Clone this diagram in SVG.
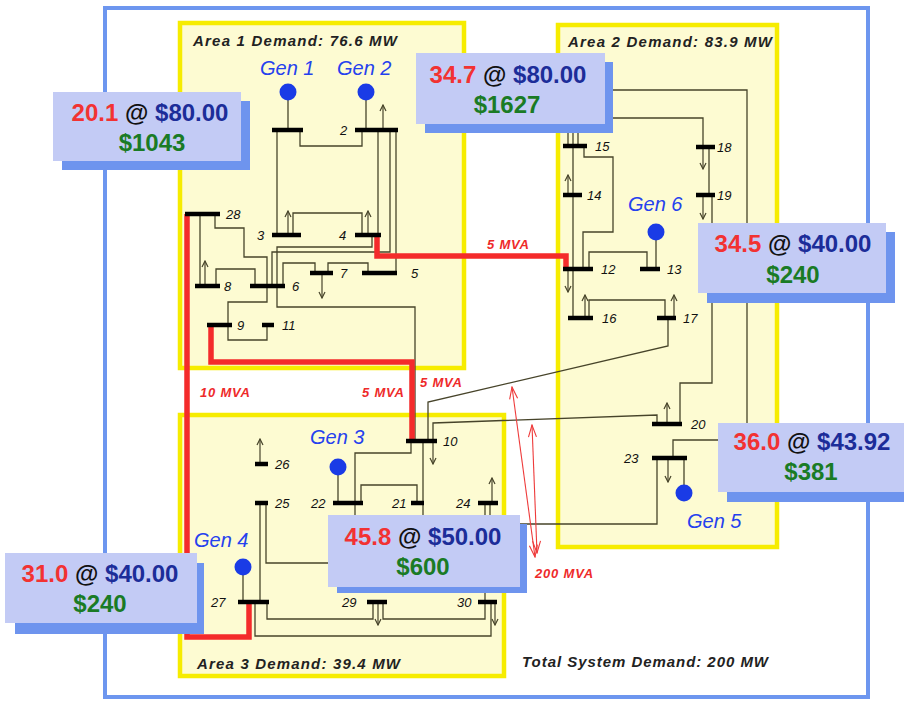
<svg xmlns="http://www.w3.org/2000/svg" width="904" height="701" viewBox="0 0 904 701">
<style>
.area{fill:#fdfbd2;stroke:#f6ec00;stroke-width:4.5}
.frame{fill:none;stroke:#6d96ef;stroke-width:4}
.bus{stroke:#000;stroke-width:4.5}
.ln{fill:none;stroke:#47442a;stroke-width:1.3}
.red{fill:none;stroke:#f42b2b;stroke-width:5.5}
.load{fill:none;stroke:#47442a;stroke-width:1.2;marker-end:url(#ah)}
.lbl{font-family:"Liberation Sans",Arial,sans-serif;font-style:italic;font-size:13px;fill:#111}
.gen{font-family:"Liberation Sans",Arial,sans-serif;font-style:italic;font-size:20px;fill:#2541ee}
.dot{fill:#1a3be6}
.dem{font-family:"Liberation Sans",Arial,sans-serif;font-style:italic;font-weight:bold;font-size:15px;fill:#222}
.mva{font-family:"Liberation Sans",Arial,sans-serif;font-style:italic;font-weight:bold;font-size:13px;fill:#ee2a2a;letter-spacing:0.8px}
.box{fill:#c3cbf5}
.shadow{fill:#6e94ee}
.bt{font-family:"Liberation Sans",Arial,sans-serif;font-weight:bold;font-size:24px;text-anchor:middle}
.q{fill:#f23232}.at{fill:#111}.p{fill:#1c2d99}.c{fill:#1a7b25}
.thin{fill:none;stroke:#ee3a3a;stroke-width:1.1;marker-start:url(#ra);marker-end:url(#ra)}
</style>
<defs>
<marker id="ah" markerUnits="userSpaceOnUse" markerWidth="8" markerHeight="8" viewBox="0 0 8 8" refX="7" refY="4" orient="auto">
<path d="M1,1 L7,4 L1,7" fill="none" stroke="#47442a" stroke-width="1.2"/>
</marker>
<marker id="ra" markerUnits="userSpaceOnUse" markerWidth="14" markerHeight="10" viewBox="0 0 14 10" refX="13" refY="5" orient="auto-start-reverse">
<path d="M1,1 L13,5 L1,9" fill="none" stroke="#ee3a3a" stroke-width="1.1"/>
</marker>
</defs>
<rect x="0" y="0" width="904" height="701" fill="#ffffff"/>
<rect class="frame" x="105" y="8" width="763" height="689"/>
<g id="area1"><rect class="area" x="180" y="23" width="284" height="345"/><text class="dem" x="193" y="46" textLength="204" lengthAdjust="spacing">Area 1 Demand:  76.6 MW</text></g>
<g id="area2"><rect class="area" x="558" y="25" width="219" height="522"/><text class="dem" x="568" y="47" textLength="204" lengthAdjust="spacing">Area 2 Demand:  83.9 MW</text></g>
<g id="area3"><rect class="area" x="180" y="415" width="324" height="261"/><text class="dem" x="197" y="669" textLength="203" lengthAdjust="spacing">Area 3 Demand:  39.4 MW</text></g>
<text class="dem" x="522" y="667" textLength="246" lengthAdjust="spacing">Total System Demand:  200 MW</text>

<g id="connectors">
<path class="ln" d="M300,130 V146 H362 V130"/>
<path class="ln" d="M277,130 V235"/>
<path class="ln" d="M378,130 V235"/>
<path class="ln" d="M390,130 V252 H272 V286"/>
<path class="ln" d="M396,130 V273"/>
<path class="ln" d="M293,235 V213 H362 V235"/>
<path class="ln" d="M372,235 V247 H277 V286"/>
<path class="ln" d="M277,286 V307 H415 V441"/>
<path class="ln" d="M328,273 V263 H368 V273"/>
<path class="ln" d="M283,286 V263 H315 V273"/>
<path class="ln" d="M216,286 V269 H255 V286"/>
<path class="ln" d="M200,214 V286"/>
<path class="ln" d="M215,214 V228 H244 V257 H267 V286"/>
<path class="ln" d="M267,286 V302 H228 V325"/>
<path class="ln" d="M228,325 V340 H267 V325"/>
<path class="ln" d="M589,269 V252 H647 V269"/>
<path class="ln" d="M573,128 V318"/>
<path class="ln" d="M584,146 V157 H613 V232 H583 V269"/>
<path class="ln" d="M578,146 V118 H703 V147"/>
<path class="ln" d="M568,146 V90 H747 V440 H673 V458"/>
<path class="ln" d="M709,147 V195"/>
<path class="ln" d="M712,195 V383 H680 V424"/>
<path class="ln" d="M589,318 V300 H665 V318"/>
<path class="ln" d="M428,441 V402 L668,346 V318"/>
<path class="ln" d="M433,441 V423 L657,415 V424"/>
<path class="ln" d="M411,441 V453 H355 V503"/>
<path class="ln" d="M423,441 V503"/>
<path class="ln" d="M361,503 V485 H417 V503"/>
<path class="ln" d="M355,503 V522"/>
<path class="ln" d="M423,503 V522"/>
<path class="ln" d="M485,503 V530"/>
<path class="ln" d="M490,503 V530"/>
<path class="ln" d="M657,458 V524 H497"/>
<path class="ln" d="M266,503 V563 H340"/>
<path class="ln" d="M260,503 V602"/>
<path class="ln" d="M267,602 V619 H373 V602"/>
<path class="ln" d="M383,602 V619 H485 V602"/>
<path class="ln" d="M255,602 V636 H491 V602"/>
<path class="ln" d="M485,590 V602"/>
<path class="red" d="M187,214 V637 H249 V602"/>
<path class="red" d="M211,325 V362 H412 V439"/>
<path class="red" d="M377,235 V256 H566 V269"/>
<path class="thin" d="M512,387 L535,557"/>
<path class="thin" d="M532,425 L537,553"/>
</g>

<g id="loads">
<path class="load" d="M383,130 V105"/>
<path class="load" d="M288,235 V211"/>
<path class="load" d="M368,235 V211"/>
<path class="load" d="M322,273 V298"/>
<path class="load" d="M205,286 V261"/>
<path class="load" d="M433,441 V464"/>
<path class="load" d="M568,269 V292"/>
<path class="load" d="M568,195 V175"/>
<path class="load" d="M585,318 V295"/>
<path class="load" d="M674,318 V295"/>
<path class="load" d="M703,147 V169"/>
<path class="load" d="M703,195 V219"/>
<path class="load" d="M667,424 V403"/>
<path class="load" d="M668,458 V482"/>
<path class="load" d="M492,503 V478"/>
<path class="load" d="M260,464 V439"/>
<path class="load" d="M378,602 V625"/>
<path class="load" d="M495,602 V625"/>
</g>

<g id="mva-labels">
<text class="mva" x="487" y="249">5 MVA</text>
<text class="mva" x="200" y="397">10 MVA</text>
<text class="mva" x="362" y="397">5 MVA</text>
<text class="mva" x="420" y="387">5 MVA</text>
<text class="mva" x="535" y="578">200 MVA</text>
</g>

<g id="bus1"><path class="ln" d="M288,92 V130"/><circle class="dot" cx="288" cy="92" r="8.5"/><text class="gen" x="260" y="75">Gen 1</text><line class="bus" x1="272" y1="130" x2="303" y2="130"/></g>
<g id="bus2"><path class="ln" d="M366,92 V130"/><circle class="dot" cx="366" cy="92" r="8.5"/><text class="gen" x="337" y="75">Gen 2</text><line class="bus" x1="355" y1="130" x2="398" y2="130"/><text class="lbl" x="340" y="135">2</text></g>
<g id="bus3"><line class="bus" x1="272" y1="235" x2="301" y2="235"/><text class="lbl" x="257" y="240">3</text></g>
<g id="bus4"><line class="bus" x1="355" y1="235" x2="381" y2="235"/><text class="lbl" x="339" y="240">4</text></g>
<g id="bus5"><line class="bus" x1="362" y1="273" x2="397" y2="273"/><text class="lbl" x="411" y="278">5</text></g>
<g id="bus6"><line class="bus" x1="250" y1="286" x2="285" y2="286"/><text class="lbl" x="292" y="291">6</text></g>
<g id="bus7"><line class="bus" x1="310" y1="273" x2="333" y2="273"/><text class="lbl" x="340" y="278">7</text></g>
<g id="bus8"><line class="bus" x1="195" y1="286" x2="220" y2="286"/><text class="lbl" x="224" y="291">8</text></g>
<g id="bus9"><line class="bus" x1="207" y1="325" x2="232" y2="325"/><text class="lbl" x="237" y="330">9</text></g>
<g id="bus11"><line class="bus" x1="262" y1="325" x2="274" y2="325"/><text class="lbl" x="282" y="330">11</text></g>
<g id="bus28"><line class="bus" x1="185" y1="214" x2="220" y2="214"/><text class="lbl" x="226" y="219">28</text></g>
<g id="bus10"><line class="bus" x1="406" y1="441" x2="437" y2="441"/><text class="lbl" x="443" y="446">10</text></g>
<g id="bus12"><line class="bus" x1="563" y1="269" x2="593" y2="269"/><text class="lbl" x="601" y="274">12</text></g>
<g id="bus13"><path class="ln" d="M656,232 V269"/><circle class="dot" cx="656" cy="232" r="8.5"/><text class="gen" x="628" y="211">Gen 6</text><line class="bus" x1="640" y1="269" x2="660" y2="269"/><text class="lbl" x="667" y="274">13</text></g>
<g id="bus14"><line class="bus" x1="563" y1="195" x2="582" y2="195"/><text class="lbl" x="587" y="200">14</text></g>
<g id="bus15"><line class="bus" x1="563" y1="146" x2="587" y2="146"/><text class="lbl" x="595" y="151">15</text></g>
<g id="bus16"><line class="bus" x1="568" y1="318" x2="593" y2="318"/><text class="lbl" x="602" y="323">16</text></g>
<g id="bus17"><line class="bus" x1="657" y1="318" x2="676" y2="318"/><text class="lbl" x="683" y="323">17</text></g>
<g id="bus18"><line class="bus" x1="696" y1="147" x2="715" y2="147"/><text class="lbl" x="717" y="152">18</text></g>
<g id="bus19"><line class="bus" x1="696" y1="195" x2="715" y2="195"/><text class="lbl" x="717" y="200">19</text></g>
<g id="bus20"><line class="bus" x1="652" y1="424" x2="682" y2="424"/><text class="lbl" x="691" y="429">20</text></g>
<g id="bus21"><line class="bus" x1="411" y1="503" x2="424" y2="503"/><text class="lbl" x="392" y="508">21</text></g>
<g id="bus22"><path class="ln" d="M338,467 V503"/><circle class="dot" cx="338" cy="467" r="8.5"/><text class="gen" x="310" y="444">Gen 3</text><line class="bus" x1="333" y1="503" x2="363" y2="503"/><text class="lbl" x="311" y="508">22</text></g>
<g id="bus23"><path class="ln" d="M684,458 V493"/><circle class="dot" cx="684" cy="493" r="8.5"/><text class="gen" x="687" y="528">Gen 5</text><line class="bus" x1="652" y1="458" x2="687" y2="458"/><text class="lbl" x="624" y="463">23</text></g>
<g id="bus24"><line class="bus" x1="478" y1="503" x2="498" y2="503"/><text class="lbl" x="456" y="508">24</text></g>
<g id="bus25"><line class="bus" x1="255" y1="503" x2="268" y2="503"/><text class="lbl" x="275" y="508">25</text></g>
<g id="bus26"><line class="bus" x1="255" y1="464" x2="268" y2="464"/><text class="lbl" x="275" y="469">26</text></g>
<g id="bus27"><path class="ln" d="M243,567 V602"/><circle class="dot" cx="243" cy="567" r="8.5"/><text class="gen" x="194" y="547">Gen 4</text><line class="bus" x1="238" y1="602" x2="269" y2="602"/><text class="lbl" x="211" y="607">27</text></g>
<g id="bus29"><line class="bus" x1="367" y1="602" x2="387" y2="602"/><text class="lbl" x="342" y="607">29</text></g>
<g id="bus30"><line class="bus" x1="478" y1="602" x2="497" y2="602"/><text class="lbl" x="457" y="607">30</text></g>

<g id="box-gen1"><rect class="shadow" x="62" y="101" width="188" height="69"/><rect class="box" x="53" y="92" width="188" height="69"/><text class="bt" x="150" y="121"><tspan class="q">20.1</tspan> <tspan class="at">@</tspan> <tspan class="p">$80.00</tspan></text><text class="bt c" x="152" y="151">$1043</text></g>
<g id="box-gen2"><rect class="shadow" x="425" y="62" width="188" height="71"/><rect class="box" x="416" y="53" width="189" height="71"/><text class="bt" x="508" y="83"><tspan class="q">34.7</tspan> <tspan class="at">@</tspan> <tspan class="p">$80.00</tspan></text><text class="bt c" x="507" y="113">$1627</text></g>
<g id="box-gen6"><rect class="shadow" x="707" y="232" width="188" height="71"/><rect class="box" x="698" y="223" width="188" height="70"/><text class="bt" x="793" y="252"><tspan class="q">34.5</tspan> <tspan class="at">@</tspan> <tspan class="p">$40.00</tspan></text><text class="bt c" x="793" y="283">$240</text></g>
<g id="box-gen5"><rect class="shadow" x="727" y="432" width="190" height="70"/><rect class="box" x="718" y="423" width="190" height="69"/><text class="bt" x="812" y="450"><tspan class="q">36.0</tspan> <tspan class="at">@</tspan> <tspan class="p">$43.92</tspan></text><text class="bt c" x="811" y="480">$381</text></g>
<g id="box-gen3"><rect class="shadow" x="337" y="524" width="190" height="69"/><rect class="box" x="328" y="515" width="192" height="72"/><text class="bt" x="423" y="545"><tspan class="q">45.8</tspan> <tspan class="at">@</tspan> <tspan class="p">$50.00</tspan></text><text class="bt c" x="423" y="575">$600</text></g>
<g id="box-gen4"><rect class="shadow" x="15" y="563" width="189" height="71"/><rect class="box" x="5" y="553" width="192" height="70"/><text class="bt" x="100" y="582"><tspan class="q">31.0</tspan> <tspan class="at">@</tspan> <tspan class="p">$40.00</tspan></text><text class="bt c" x="100" y="612">$240</text></g>
</svg>
